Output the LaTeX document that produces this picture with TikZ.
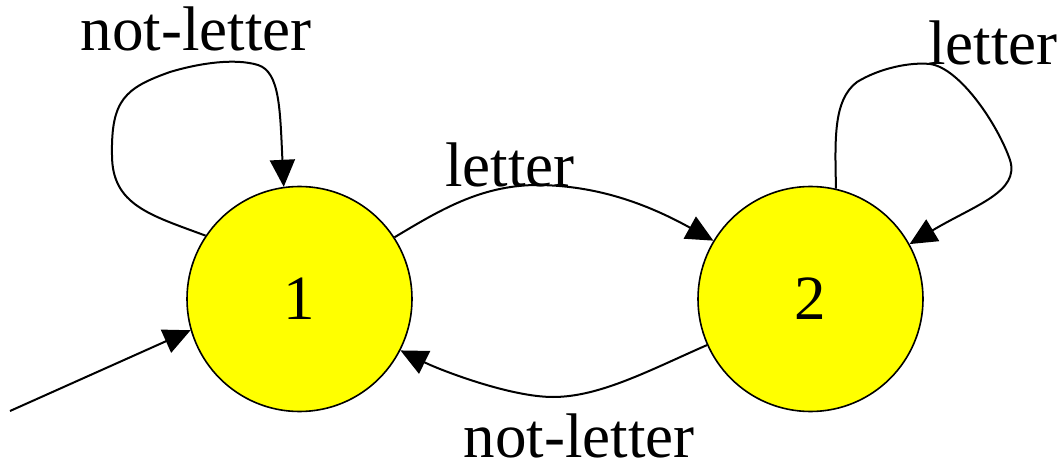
\documentclass[tikz,border=0pt]{standalone}
\usepackage{fontspec}
\setmainfont{Liberation Serif}
\usetikzlibrary{arrows.meta}
\definecolor{stateyellow}{RGB}{255,255,0}
\begin{document}
\begin{tikzpicture}[x=1pt,y=-1pt,
  state/.style={circle,draw=black,line width=1.6pt,fill=stateyellow,minimum size=225pt,inner sep=0pt,font=\fontsize{63}{70}\selectfont},
  lbl/.style={anchor=base,inner sep=0pt,font=\fontsize{63}{70}\selectfont},
  edge/.style={line width=2pt,-{Triangle[length=27pt,width=25pt]}}]
\useasboundingbox (0,0) rectangle (1060,470);
\node[state] (s1) at (299.5,299) {1};
\node[state] (s2) at (810.5,299) {2};
\coordinate (init) at (10,411);
% initial
\draw[edge] (init) -- (s1.196);
% self loop 1
\draw[edge] (s1.146) .. controls (150,215) and (112,205) .. (112,155)
  .. controls (111,100) and (125,88) .. (170,72)
  .. controls (200,63) and (235,58) .. (258,65)
  .. controls (280,72) and (280,110) .. (s1.98);
% self loop 2
\draw[edge] (s2.77) .. controls (835,140) and (833,100) .. (857,82)
  .. controls (880,68) and (910,62) .. (930,64)
  .. controls (960,68) and (998,125) .. (1010,160)
  .. controls (1020,192) and (975,205) .. (s2.29);
% 1 -> 2
\draw[edge] (s1.33) .. controls (440,210) and (480,186) .. (535,185)
  .. controls (590,185) and (640,200) .. (s2.149);
% 2 -> 1
\draw[edge] (s2.204) .. controls (650,370) and (600,397) .. (553,397)
  .. controls (510,397) and (440,370) .. (s1.333);
% labels
\node[lbl] (l1) at (196,51) {not-letter};
\node[lbl] (l2) at (993,65) {letter};
\node[lbl] (l3) at (510,187) {letter};
\node[lbl] (l4) at (579,457) {not-letter};
\end{tikzpicture}
\end{document}
